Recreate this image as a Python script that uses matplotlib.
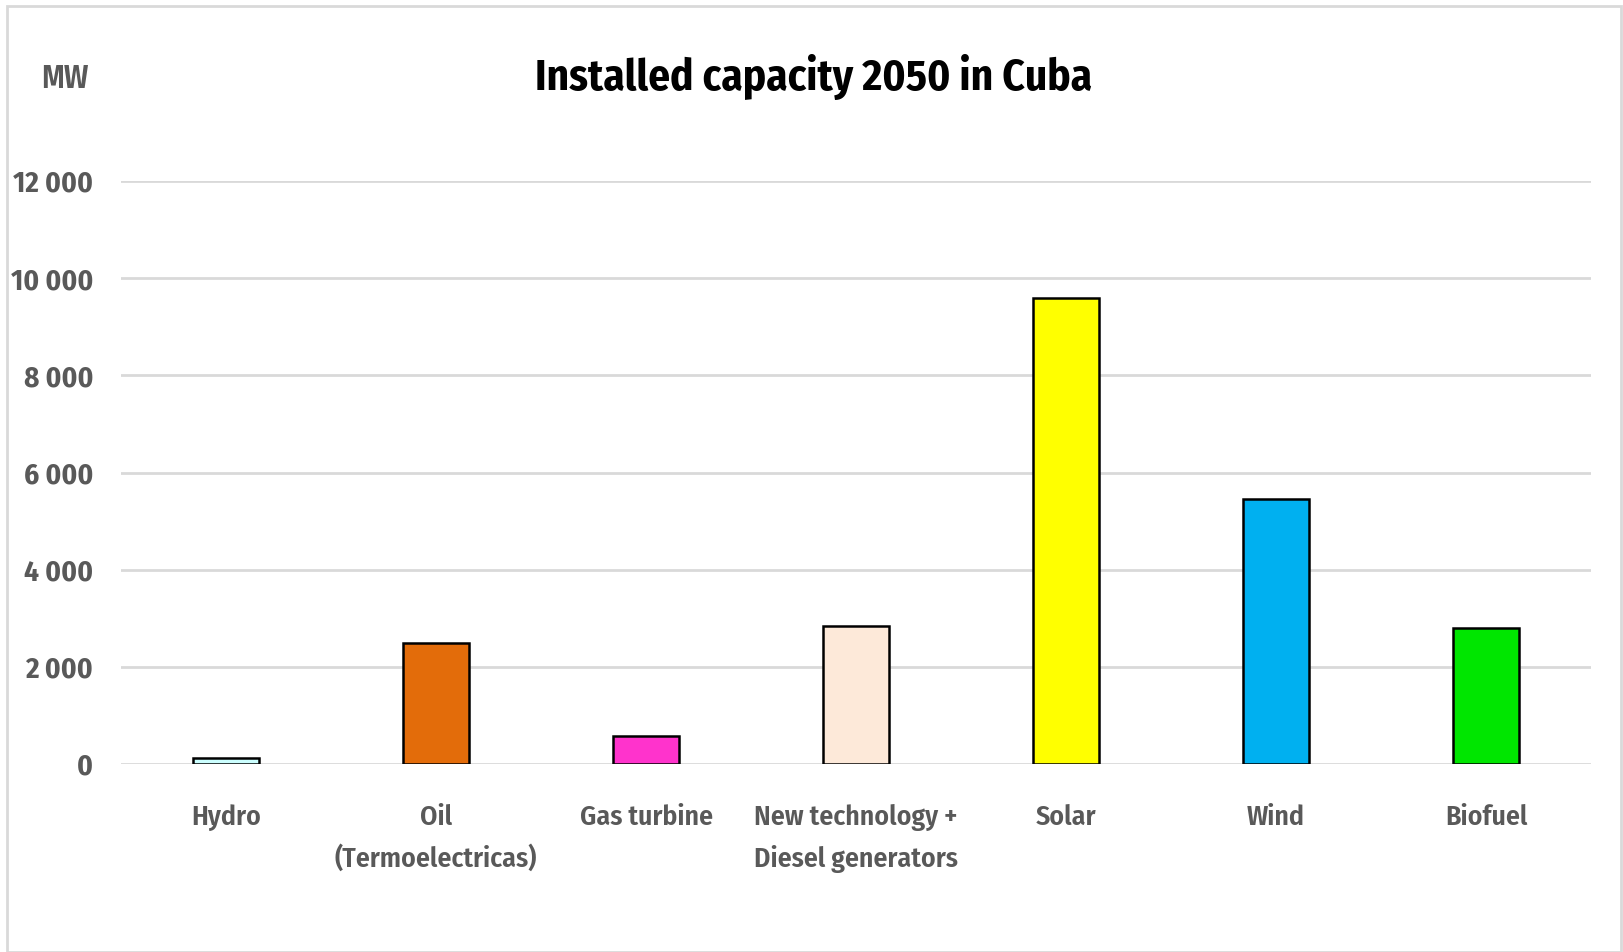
import matplotlib
matplotlib.use("Agg")
import matplotlib.pyplot as plt
from matplotlib.patches import Rectangle
from matplotlib.ticker import FuncFormatter
from matplotlib import font_manager

categories = ["Hydro", "Oil\n(Termoelectricas)", "Gas turbine",
              "New technology +\nDiesel generators", "Solar", "Wind", "Biofuel"]
values = [130, 2500, 580, 2840, 9600, 5460, 2800]
colors = ["#CCFFFF", "#E36C0A", "#FF33CC", "#FDE9D9", "#FFFF00", "#00B0F0", "#00E600"]
yticks = [0, 2000, 4000, 6000, 8000, 10000, 12000]

names = {f.name for f in font_manager.fontManager.ttflist}
fam = [f for f in ["Fira Sans Condensed", "PT Sans Narrow", "Archivo Narrow",
                   "Roboto Condensed", "Open Sans", "DejaVu Sans"] if f in names]
plt.rcParams["font.family"] = fam

W, H = 1623, 952
fig = plt.figure(figsize=(W / 100, H / 100), dpi=100)
fig.patches.append(Rectangle((7 / W, 0), (1621 - 7) / W, (952 - 6) / H, transform=fig.transFigure,
                             fill=False, edgecolor="#D9D9D9", linewidth=2))

ax = fig.add_axes([121 / W, (952 - 764) / H, (1591 - 121) / W, (764 - 181) / H])
x = range(len(categories))
ax.bar(x, values, width=0.315, color=colors, edgecolor="black", linewidth=1.8, zorder=3)
ax.set_xlim(-0.5, len(categories) - 0.5)
ax.set_ylim(0, 12000)
ax.set_yticks(yticks)
ax.yaxis.set_major_formatter(FuncFormatter(lambda v, p: f"{int(v):,}".replace(",", " ")))
ax.grid(axis="y", color="#D9D9D9", linewidth=2, zorder=0)
for s in ax.spines.values():
    s.set_visible(False)
ax.tick_params(axis="y", length=0, colors="#595959", labelsize=21, pad=20)
ax.tick_params(axis="x", length=0, colors="#595959", labelsize=20, pad=29)
ax.set_xticks(list(x))
ax.set_xticklabels(categories, fontweight="semibold", linespacing=1.6, va="top")
for t in ax.get_yticklabels():
    t.set_fontweight("bold")

fig.text(814 / W, 1 - 77 / H, "Installed capacity 2050 in Cuba", ha="center", va="center",
         fontsize=31, fontweight="bold", color="black")
fig.text(65 / W, 1 - 79 / H, "MW", ha="center", va="center", fontsize=23,
         fontweight="semibold", color="#595959")

fig.savefig("out.png", dpi=100)
